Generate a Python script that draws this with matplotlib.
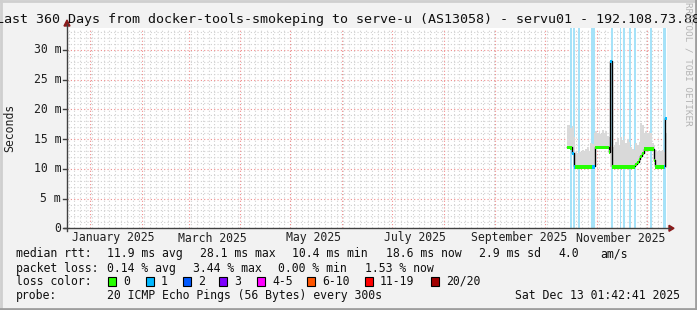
import datetime as dt
import matplotlib
matplotlib.use("Agg")
import matplotlib.pyplot as plt
from matplotlib.patches import Rectangle, Polygon

# ---------------- data ---------------- #
title = "Last 360 Days from docker-tools-smokeping to serve-u (AS13058) - servu01 - 192.108.73.88"
t_end = dt.datetime(2025, 12, 13, 1, 42, 41)
t_start = t_end - dt.timedelta(days=360)

# daily samples, first one is Oct 14 2025
data_start = dt.datetime(2025, 10, 14)
median_ms = [13.7, 13.7, 13.6, 12.6, 10.4, 10.4, 10.4, 10.4, 10.4, 10.4,
             10.4, 10.4, 10.4, 10.4, 10.4, 10.4, 10.4, 13.7, 13.7, 13.7,
             13.7, 13.7, 13.7, 13.7, 13.7, 12.9, 28.1, 10.4, 10.4, 10.4,
             10.4, 10.4, 10.4, 10.4, 10.4, 10.4, 10.4, 10.4, 10.4, 10.4,
             10.4, 10.8, 11.2, 11.7, 12.2, 12.6, 13.4, 13.4, 13.4, 13.4,
             13.4, 13.4, 11.5, 10.4, 10.4, 10.4, 10.4, 10.4, 10.4, 18.6]
smoke_top = [17.4, 17.4, 16.8, 17.2, 15.4, 12.8, 12.6, 13.0, 12.8, 13.1,
             12.9, 13.3, 13.6, 13.0, 14.3, 14.2, 16.0, 16.3, 16.1, 16.4,
             15.8, 16.6, 16.0, 16.4, 15.6, 15.4, 13.9, 13.7, 13.9, 14.6,
             15.2, 14.0, 15.4, 14.8, 15.6, 14.3, 15.0, 14.5, 13.6, 13.4,
             13.1, 14.3, 14.0, 14.6, 17.7, 17.4, 16.0, 16.4, 16.1, 16.3,
             16.0, 14.3, 14.0, 13.1, 12.9, 13.2, 13.0, 13.1, 12.8, 16.0]
smoke_low = [13.4, 13.4, 13.3, 12.3, 10.2, 10.2, 10.2, 10.2, 10.2, 10.2,
             10.2, 10.2, 10.2, 10.2, 10.2, 10.2, 10.2, 13.4, 13.4, 13.4,
             13.4, 13.4, 13.4, 13.4, 13.4, 12.6, 10.3, 10.2, 10.2, 10.2,
             10.2, 10.2, 10.2, 10.2, 10.2, 10.2, 10.2, 10.2, 10.2, 10.2,
             10.2, 10.5, 10.9, 11.4, 11.9, 12.3, 13.1, 13.1, 13.1, 13.1,
             13.1, 13.1, 11.2, 10.2, 10.2, 10.2, 10.2, 10.2, 10.2, 10.2]
loss = [0, 0, 0, 1, 1, 0, 0, 0, 0, 0,
        0, 0, 0, 0, 0, 1, 1, 0, 0, 0,
        0, 0, 0, 0, 0, 0, 1, 0, 0, 0,
        0, 0, 0, 0, 0, 0, 0, 0, 0, 0,
        0, 0, 0, 0, 0, 0, 0, 0, 0, 0,
        0, 0, 0, 0, 0, 0, 0, 0, 1, 1]

# light blue bands (start, end)
bands = [("2025-10-16 02:00", "2025-10-17 07:00"),
         ("2025-10-17 22:00", "2025-10-19 02:00"),
         ("2025-10-20 10:00", "2025-10-21 14:00"),
         ("2025-10-28 10:00", "2025-10-30 19:00"),
         ("2025-11-09 17:00", "2025-11-10 19:00"),
         ("2025-11-14 14:00", "2025-11-15 17:00"),
         ("2025-11-16 19:00", "2025-11-17 22:00"),
         ("2025-11-20 10:00", "2025-11-21 07:00"),
         ("2025-11-23 05:00", "2025-11-24 07:00"),
         ("2025-12-02 14:00", "2025-12-03 19:00"),
         ("2025-12-10 14:00", "2025-12-12 17:00")]

loss_labels = ["0", "1", "2", "3", "4-5", "6-10", "11-19", "20/20"]
loss_colors = ["#26ff00", "#00b8ff", "#0059ff", "#7e00ff",
               "#ff00ff", "#ff5500", "#ff0000", "#a10000"]

stats_rtt = ["11.9 ms avg", "28.1 ms max", "10.4 ms min", "18.6 ms now", "2.9 ms sd", "4.0", "am/s"]
stats_loss = ["0.14 % avg", "3.44 % max", "0.00 % min", "1.53 % now"]
probe_txt = "20 ICMP Echo Pings (56 Bytes) every 300s"
stamp = "Sat Dec 13 01:42:41 2025"

# ---------------- layout ---------------- #
W, H = 697, 310
mono = "DejaVu Sans Mono"
fs = 8.3
plt.rcParams["font.family"] = mono

fig = plt.figure(figsize=(W / 100, H / 100), dpi=100, facecolor="#f2f2f2")
x0, x1, y_top, y_bot = 67, 667, 28.3, 228.3
ax = fig.add_axes([x0 / W, 1 - y_bot / H, (x1 - x0) / W, (y_bot - y_top) / H])
ax.set_facecolor("white")
ymax = (y_bot - y_top) / 5.944
ax.set_xlim(t_start, t_end)
ax.set_ylim(0, ymax)
for s in ax.spines.values():
    s.set_visible(False)


def fx(x):
    return x / W


def fy(y):
    return 1 - y / H


# grid
dot = (0, (1, 2))
for v in range(1, int(ymax) + 1):
    if v % 5:
        ax.axhline(v, color="#d0d0d0", lw=0.8, ls=dot, zorder=1)
day = t_start.replace(hour=0, minute=0, second=0) + dt.timedelta(days=1)
while day < t_end:
    ax.axvline(day, color="#d0d0d0", lw=0.8, ls=dot, zorder=1)
    day += dt.timedelta(hours=84)
months = []
m = dt.datetime(2025, 1, 1)
while m < t_end:
    months.append(m)
    m = dt.datetime(m.year + (m.month // 12), m.month % 12 + 1, 1)
for v in range(5, int(ymax) + 1, 5):
    ax.axhline(v, color="#f08c8c", lw=0.8, ls=dot, zorder=1.5)
for m in months:
    ax.axvline(m, color="#f08c8c", lw=0.8, ls=dot, zorder=1.5)

# light blue bands
for a, b in bands:
    ax.axvspan(dt.datetime.fromisoformat(a), dt.datetime.fromisoformat(b),
               color="#a6e2f8", lw=0, zorder=2)

# smoke
days = [data_start + dt.timedelta(days=i) for i in range(len(median_ms))]
ax.bar(days, [t - l for t, l in zip(smoke_top, smoke_low)], bottom=smoke_low,
       width=1.0, align="edge", color="#d9d9d9", lw=0, zorder=3)


# median coloured by loss
def loss_idx(n):
    if n <= 3:
        return n
    if n <= 5:
        return 4
    if n <= 10:
        return 5
    if n <= 19:
        return 6
    return 7


ax.step(days + [days[-1] + dt.timedelta(days=1)], median_ms + [median_ms[-1]],
        where="post", color="black", lw=1.0, zorder=4)
ax.bar(days, [0.55] * len(days), bottom=[v - 0.35 for v in median_ms], width=1.0,
       align="edge", color=[loss_colors[loss_idx(n)] for n in loss], lw=0, zorder=5)

# ticks / labels
ax.set_xticks([])
ax.set_yticks([])
for v in range(0, int(ymax) + 1, 5):
    lab = "0" if v == 0 else f"{v} m"
    yp = y_bot - v * 5.944
    fig.text(fx(61), fy(yp), lab, ha="right", va="center", fontsize=fs, color="#202020")
    fig.add_artist(plt.Line2D([fx(63), fx(67)], [fy(yp), fy(yp)], color="#404040", lw=1))
for m in months:
    if m.month % 2 == 1:
        xp = x0 + (m + dt.timedelta(days=15) - t_start).total_seconds() / 86400 / 360 * 600
        fig.text(fx(xp - 1.5), fy(241.5), m.strftime("%B %Y"), ha="center", va="baseline",
                 fontsize=fs, color="#202020")

# axis lines with arrows
fig.add_artist(plt.Line2D([fx(64), fx(670)], [fy(y_bot), fy(y_bot)], color="#404040", lw=1))
fig.add_artist(plt.Line2D([fx(x0), fx(x0)], [fy(y_bot + 3), fy(24)], color="#404040", lw=1))
fig.add_artist(Polygon([(fx(669), fy(y_bot - 3)), (fx(674), fy(y_bot)), (fx(669), fy(y_bot + 3))],
                       closed=True, color="#8b1a1a", transform=fig.transFigure))
fig.add_artist(Polygon([(fx(x0 - 3), fy(26)), (fx(x0), fy(20)), (fx(x0 + 3), fy(26))],
                       closed=True, color="#8b1a1a", transform=fig.transFigure))

# title, y label, watermark
fig.text(0.5, fy(23), title, ha="center", va="baseline", fontsize=9.6, color="#101010")
fig.text(fx(10), fy(127.5), "Seconds", rotation=90, ha="center", va="center",
         fontsize=fs, color="#202020")
fig.text(fx(688), fy(2), "RRDTOOL / TOBI OETIKER", rotation=-90, ha="center", va="top",
         fontsize=6.7, color="#b4b4b4")

# legend
txt = dict(fontsize=fs, color="#101010", va="baseline", ha="left")
fig.text(fx(16), fy(257.3), "median rtt:", **txt)
for s, xp in zip(stats_rtt, [107, 200, 292, 386, 479, 558, 600]):
    fig.text(fx(xp), fy(257.3), s, **txt)
fig.text(fx(16), fy(271.7), "packet loss:", **txt)
for s, xp in zip(stats_loss, [107, 193, 278, 365]):
    fig.text(fx(xp), fy(271.7), s, **txt)
fig.text(fx(16), fy(285), "loss color:", **txt)
for lab, col, xp in zip(loss_labels, loss_colors, [108, 146, 183, 219, 257, 307, 365, 431]):
    fig.add_artist(Rectangle((fx(xp), fy(286)), 8 / W, 9 / H, facecolor=col,
                             edgecolor="black", lw=0.8, transform=fig.transFigure))
    fig.text(fx(xp + 15), fy(285), lab, **txt)
fig.text(fx(16), fy(299.3), "probe:", **txt)
fig.text(fx(107), fy(299.3), probe_txt, **txt)
fig.text(fx(680), fy(299.3), stamp, fontsize=fs, color="#101010", va="baseline", ha="right")

# 3d frame
fig.add_artist(plt.Line2D([fx(1), fx(1)], [0, 1], color="#cfcfcf", lw=2))
fig.add_artist(plt.Line2D([0, 1], [fy(1), fy(1)], color="#cfcfcf", lw=2))
fig.add_artist(plt.Line2D([0, 1], [fy(309), fy(309)], color="#9e9e9e", lw=2))
fig.add_artist(plt.Line2D([fx(696), fx(696)], [0, 1], color="#9e9e9e", lw=2))

fig.savefig("out.png", dpi=100, facecolor=fig.get_facecolor())
